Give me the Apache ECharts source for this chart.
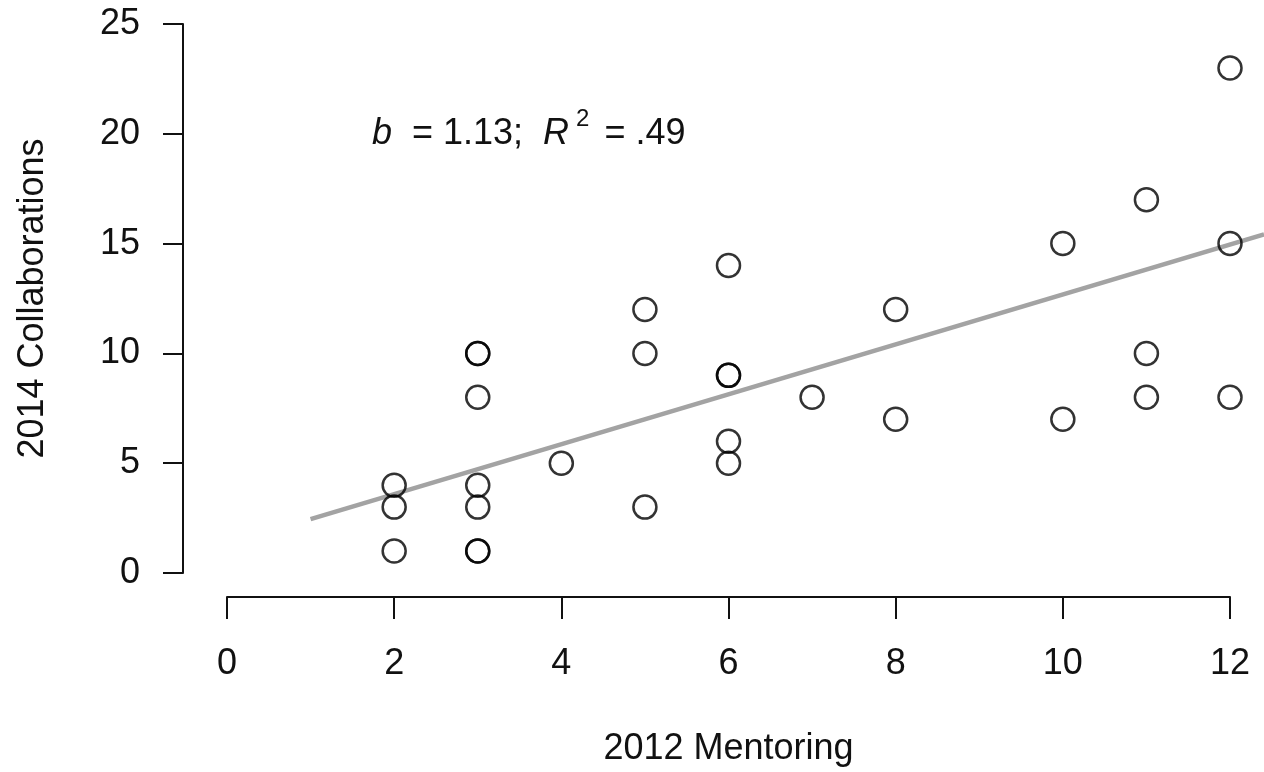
<!DOCTYPE html>
<html>
<head>
<meta charset="utf-8">
<script src="https://cdn.jsdelivr.net/npm/echarts@6/dist/echarts.min.js"></script>
<style>
html,body{margin:0;padding:0;background:#fff;}
#chart{width:1264px;height:772px;}
</style>
</head>
<body>
<div id="chart"></div>
<script>
// 2012 Mentoring (x) and 2014 Collaborations (y)
const mentoring2012 = [2, 2, 2, 3, 3, 3, 3, 3, 3, 3, 4, 5, 5, 5, 6, 6, 6, 6, 6, 7, 8, 8, 10, 10, 11, 11, 11, 12, 12, 12];
const collaborations2014 = [4, 3, 1, 10, 10, 8, 4, 3, 1, 1, 5, 12, 10, 3, 14, 9, 9, 6, 5, 8, 12, 7, 15, 7, 17, 10, 8, 23, 15, 8];
const xTicks = [0, 2, 4, 6, 8, 10, 12];
const yTicks = [0, 5, 10, 15, 20, 25];
// regression line: intercept, slope, and x extent
const fitIntercept = [1.45];
const fitSlope = [1.13];
const fitRange = [1, 12.41];
const annotation = { b: '1.13', r2: '.49' };

const FONT = "'Liberation Sans', Arial, Helvetica, sans-serif";
const points = mentoring2012.map((x, i) => [x, collaborations2014[i]]);
const fitLine = fitRange.map(x => [x, fitIntercept[0] + fitSlope[0] * x]);

const chart = echarts.init(document.getElementById('chart'), null, { renderer: 'canvas' });
const axisLine = { show: true, onZero: false, lineStyle: { color: '#111', width: 2 } };
const hidden = { show: false };
chart.setOption({
  backgroundColor: '#fff',
  animation: false,
  grid: [
    { left: 227, right: 34, top: 24, bottom: 196, containLabel: false },
    // same pixel scale, extended to the right edge so the fit line can run past x = 12
    { left: 227, right: 0, top: 24, bottom: 196, containLabel: false }
  ],
  xAxis: [{
    type: 'value', min: 0, max: 12, interval: 2, gridIndex: 0,
    offset: 24,
    axisLine: axisLine,
    axisTick: { show: true, length: 22, lineStyle: { color: '#111', width: 2 } },
    axisLabel: { margin: 49, fontSize: 36, color: '#111', fontFamily: FONT,
      formatter: v => xTicks.includes(v) ? String(v) : '' },
    splitLine: { show: false },
    name: '2012 Mentoring', nameLocation: 'middle', nameGap: 134, nameMoveOverlap: false,
    nameTextStyle: { fontSize: 36, color: '#111', fontFamily: FONT }
  }, {
    type: 'value', min: 0, max: fitRange[1], gridIndex: 1,
    axisLine: hidden, axisTick: hidden, axisLabel: hidden, splitLine: hidden
  }],
  yAxis: [{
    type: 'value', min: 0, max: 25, interval: 5, gridIndex: 0,
    offset: 44,
    axisLine: axisLine,
    axisTick: { show: true, length: 20, lineStyle: { color: '#111', width: 2 } },
    axisLabel: { margin: 43, fontSize: 36, color: '#111', fontFamily: FONT, padding: [5, 0, 0, 0],
      formatter: v => yTicks.includes(v) ? String(v) : '' },
    splitLine: { show: false },
    name: '2014 Collaborations', nameLocation: 'middle', nameGap: 132, nameMoveOverlap: false,
    nameTextStyle: { fontSize: 36, color: '#111', fontFamily: FONT }
  }, {
    type: 'value', min: 0, max: 25, gridIndex: 1,
    axisLine: hidden, axisTick: hidden, axisLabel: hidden, splitLine: hidden
  }],
  series: [
    {
      type: 'line', data: fitLine, xAxisIndex: 1, yAxisIndex: 1,
      symbol: 'none', clip: false, z: 1,
      lineStyle: { color: '#a3a3a3', width: 4.5 }, silent: true
    },
    {
      type: 'scatter', data: points, xAxisIndex: 0, yAxisIndex: 0,
      symbol: 'circle', symbolSize: 23, z: 2,
      itemStyle: { color: 'rgba(255,255,255,0)', borderColor: '#000', borderWidth: 2.5 }
    }
  ],
  graphic: [{
    type: 'text', x: 372, y: 127, z: 10,
    style: {
      text: '{i|b}{n|  = ' + annotation.b + ';  }{i|R}{s|2}{n| }{w| }{n|= ' + annotation.r2 + '}',
      verticalAlign: 'middle', align: 'left',
      rich: {
        i: { fontSize: 36, fontStyle: 'italic', fontFamily: FONT, fill: '#111', lineHeight: 50, verticalAlign: 'bottom' },
        n: { fontSize: 36, fontFamily: FONT, fill: '#111', lineHeight: 50, verticalAlign: 'bottom' },
        w: { fontSize: 18, fontFamily: FONT, fill: '#111', lineHeight: 50, verticalAlign: 'bottom' },
        s: { fontSize: 24, fontFamily: FONT, fill: '#111', lineHeight: 24, verticalAlign: 'top', padding: [5, 0, 0, 7] }
      }
    }
  }]
});
</script>
</body>
</html>
